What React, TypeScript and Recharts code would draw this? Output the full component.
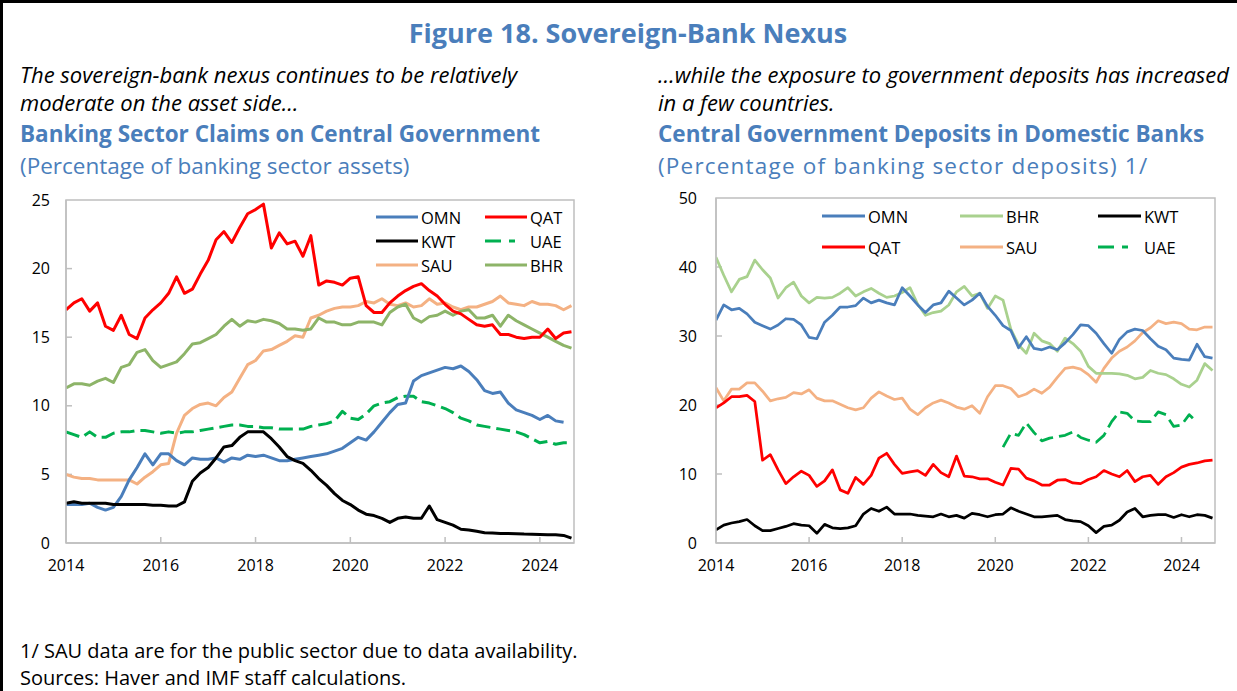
import React from "react";
import { LineChart, Line, XAxis, YAxis, ReferenceArea, ReferenceLine } from "recharts";

// bimonthly grid, Jan 2014 .. Sep 2024
const t = Array.from({ length: 65 }, (_, i) => 2014 + i / 6);
const yearTicks = [2014, 2016, 2018, 2020, 2022, 2024];
const xMax = 2024.72;

// Left panel: claims on central government (% of assets)
const leftTicks = [0, 5, 10, 15, 20, 25];
const omnL = [2.8, 2.8, 2.8, 2.9, 2.6, 2.4, 2.6, 3.4, 4.6, 5.5, 6.5, 5.7, 6.5, 6.5, 6.0, 5.7, 6.2, 6.1, 6.1, 6.2, 5.9, 6.2, 6.1, 6.4, 6.3, 6.4, 6.2, 6.0, 6.0, 6.1, 6.2, 6.3, 6.4, 6.5, 6.7, 6.9, 7.3, 7.7, 7.5, 8.1, 8.8, 9.5, 10.1, 10.2, 11.8, 12.2, 12.4, 12.6, 12.8, 12.7, 12.9, 12.5, 11.9, 11.1, 10.9, 11.0, 10.2, 9.7, 9.5, 9.3, 9.0, 9.3, 8.9, 8.8, null];
const qatL = [17.0, 17.5, 17.8, 16.9, 17.5, 15.8, 15.5, 16.6, 15.2, 14.9, 16.4, 17.0, 17.5, 18.2, 19.4, 18.2, 18.5, 19.6, 20.6, 22.1, 22.7, 21.9, 23.0, 24.0, 24.3, 24.7, 21.5, 22.6, 21.8, 22.0, 20.9, 22.4, 18.8, 19.1, 19.0, 18.8, 19.3, 19.4, 17.3, 16.8, 16.8, 17.5, 18.0, 18.4, 18.7, 18.9, 18.4, 18.0, 17.4, 16.9, 16.7, 16.3, 15.9, 15.8, 15.9, 15.2, 15.2, 15.0, 14.9, 15.0, 15.0, 15.6, 14.9, 15.3, 15.4];
const kwtL = [2.9, 3.0, 2.9, 2.9, 2.9, 2.9, 2.8, 2.8, 2.8, 2.8, 2.8, 2.75, 2.75, 2.7, 2.7, 3.0, 4.5, 5.1, 5.5, 6.2, 7.0, 7.1, 7.7, 8.1, 8.1, 8.1, 7.6, 7.0, 6.3, 6.0, 5.8, 5.3, 4.7, 4.2, 3.6, 3.1, 2.8, 2.4, 2.1, 2.0, 1.8, 1.5, 1.8, 1.9, 1.8, 1.8, 2.7, 1.7, 1.5, 1.3, 1.0, 0.95, 0.85, 0.75, 0.72, 0.7, 0.7, 0.68, 0.65, 0.64, 0.62, 0.6, 0.6, 0.55, 0.35];
const uaeL = [8.1, 7.9, 7.7, 8.1, 7.7, 7.7, 8.0, 8.1, 8.1, 8.2, 8.2, 8.1, 8.0, 8.1, 8.0, 8.1, 8.1, 8.2, 8.3, 8.4, 8.5, 8.6, 8.6, 8.5, 8.5, 8.4, 8.4, 8.3, 8.3, 8.3, 8.3, 8.5, 8.6, 8.7, 8.9, 9.6, 9.1, 9.0, 9.4, 10.0, 10.2, 10.3, 10.6, 10.7, 10.7, 10.3, 10.2, 10.0, 9.8, 9.5, 9.1, 8.9, 8.6, 8.5, 8.4, 8.3, 8.2, 8.1, 7.9, 7.6, 7.3, 7.4, 7.2, 7.3, 7.3];
const sauL = [5.0, 4.8, 4.7, 4.7, 4.6, 4.6, 4.6, 4.6, 4.6, 4.3, 4.8, 5.2, 5.7, 5.8, 8.0, 9.3, 9.8, 10.1, 10.2, 10.0, 10.6, 11.0, 12.0, 13.0, 13.3, 14.0, 14.1, 14.4, 14.7, 15.1, 15.0, 16.4, 16.6, 16.9, 17.1, 17.2, 17.2, 17.3, 17.6, 17.5, 17.8, 17.4, 17.3, 17.5, 17.2, 17.3, 17.8, 17.4, 17.5, 17.2, 17.0, 17.2, 17.2, 17.4, 17.6, 18.0, 17.5, 17.4, 17.3, 17.6, 17.4, 17.4, 17.3, 17.0, 17.3];
const bhrL = [11.3, 11.6, 11.6, 11.5, 11.8, 12.0, 11.7, 12.8, 13.0, 13.9, 14.1, 13.3, 12.8, 13.0, 13.2, 13.8, 14.5, 14.6, 14.9, 15.2, 15.8, 16.3, 15.8, 16.2, 16.1, 16.3, 16.2, 16.0, 15.6, 15.6, 15.5, 15.6, 16.4, 16.1, 16.1, 15.9, 15.9, 16.1, 16.1, 16.1, 15.9, 16.8, 17.2, 17.4, 16.4, 16.1, 16.5, 16.6, 16.9, 16.6, 16.9, 17.0, 16.4, 16.4, 16.6, 15.8, 16.6, 16.2, 15.9, 15.6, 15.3, 15.0, 14.7, 14.4, 14.2];

// Right panel: government deposits (% of deposits)
const rightTicks = [0, 10, 20, 30, 40, 50];
const omnR = [32.3, 34.5, 33.8, 34.0, 33.2, 32.0, 31.5, 31.0, 31.6, 32.5, 32.4, 31.6, 29.8, 29.6, 32.0, 33.0, 34.2, 34.2, 34.4, 35.5, 34.8, 35.2, 34.8, 34.5, 37.0, 35.8, 34.5, 33.4, 34.5, 34.8, 36.5, 35.5, 34.5, 35.2, 36.2, 34.3, 33.0, 31.5, 30.8, 28.3, 29.9, 28.2, 28.0, 28.4, 28.0, 29.0, 30.2, 31.6, 31.5, 30.4, 28.9, 27.5, 29.5, 30.6, 31.0, 30.8, 29.6, 28.5, 28.0, 26.8, 26.6, 26.5, 28.8, 27.0, 26.8];
const bhrR = [41.4, 38.8, 36.4, 38.2, 38.6, 41.0, 39.6, 38.4, 35.5, 37.0, 37.8, 35.8, 34.8, 35.6, 35.5, 35.6, 36.2, 37.0, 35.8, 36.4, 36.9, 36.2, 35.6, 35.8, 36.3, 37.0, 34.6, 33.0, 33.4, 33.6, 34.5, 36.4, 37.2, 35.8, 36.2, 34.0, 35.8, 35.2, 31.0, 28.7, 27.5, 30.4, 29.3, 28.9, 27.8, 29.7, 28.9, 27.8, 25.6, 24.6, 24.6, 24.6, 24.5, 24.3, 23.8, 24.0, 25.0, 24.6, 24.4, 23.8, 23.0, 22.6, 23.6, 26.0, 25.0];
const kwtR = [1.9, 2.6, 2.9, 3.1, 3.4, 2.5, 1.8, 1.8, 2.1, 2.4, 2.8, 2.6, 2.5, 1.4, 2.7, 2.2, 2.1, 2.2, 2.5, 4.2, 5.0, 4.6, 5.2, 4.2, 4.2, 4.2, 4.0, 3.9, 3.8, 4.2, 3.8, 4.0, 3.6, 4.3, 4.1, 3.8, 4.1, 4.2, 5.1, 4.6, 4.2, 3.8, 3.8, 3.9, 4.0, 3.4, 3.2, 3.1, 2.5, 1.5, 2.4, 2.6, 3.3, 4.5, 5.0, 3.8, 4.0, 4.1, 4.1, 3.7, 4.1, 3.8, 4.1, 4.0, 3.6];
const qatR = [19.6, 20.3, 21.2, 21.2, 21.4, 20.5, 12.0, 12.8, 10.6, 8.6, 9.6, 10.4, 9.8, 8.2, 9.0, 10.6, 7.7, 7.2, 9.5, 8.5, 9.8, 12.3, 13.0, 11.4, 10.1, 10.3, 10.5, 9.8, 11.4, 10.2, 9.6, 12.6, 9.7, 9.6, 9.3, 9.3, 8.8, 8.4, 10.8, 10.7, 9.4, 9.0, 8.4, 8.4, 9.1, 9.2, 8.7, 8.6, 9.2, 9.6, 10.5, 10.0, 9.6, 10.5, 8.9, 9.6, 9.8, 8.5, 9.6, 10.2, 11.0, 11.4, 11.6, 11.9, 12.0];
const sauR = [22.5, 20.6, 22.3, 22.3, 23.2, 23.2, 22.0, 20.6, 20.9, 21.1, 21.8, 21.6, 22.2, 21.0, 20.6, 20.6, 20.1, 19.6, 19.3, 19.6, 21.0, 21.9, 21.3, 20.8, 21.0, 19.4, 18.6, 19.6, 20.3, 20.7, 20.3, 19.7, 19.4, 19.9, 18.8, 21.2, 22.8, 22.8, 22.4, 21.2, 21.6, 22.3, 21.7, 22.6, 24.0, 25.3, 25.5, 25.2, 24.4, 23.3, 25.3, 26.8, 27.8, 28.4, 29.3, 30.5, 31.2, 32.2, 31.8, 32.0, 31.8, 31.0, 30.9, 31.3, 31.3];
const uaeR = [...Array(37).fill(null), 13.9, 15.9, 15.6, 17.4, 16.0, 14.8, 15.2, 15.4, 15.6, 16.1, 15.3, 14.9, 14.6, 15.6, 17.6, 19.0, 18.8, 17.7, 17.6, 17.6, 19.0, 18.6, 16.9, 17.1, 18.6, 17.5, null, null];

const leftRows = t.map((x, i) => ({ t: x, OMN: omnL[i], QAT: qatL[i], KWT: kwtL[i], UAE: uaeL[i], SAU: sauL[i], BHR: bhrL[i] }));
const rightRows = t.map((x, i) => ({ t: x, OMN: omnR[i], BHR: bhrR[i], KWT: kwtR[i], QAT: qatR[i], SAU: sauR[i], UAE: uaeR[i] }));

const BLUE = "#4a7ebb";
const GRID = "#bfbfbf";
const FONT = "'Open Sans', 'Noto Sans', sans-serif";
const DASH = "14 6";

const leftSeries = [
  { key: "OMN", color: BLUE },
  { key: "QAT", color: "#ff0000" },
  { key: "KWT", color: "#000000" },
  { key: "UAE", color: "#00b050", dash: DASH },
  { key: "SAU", color: "#f4b183" },
  { key: "BHR", color: "#8db468" },
];
const rightSeries = [
  { key: "OMN", color: BLUE },
  { key: "BHR", color: "#a9d18e" },
  { key: "KWT", color: "#000000" },
  { key: "QAT", color: "#ff0000" },
  { key: "SAU", color: "#f4b183" },
  { key: "UAE", color: "#00b050", dash: DASH },
];
// draw order (back to front)
const leftOrder = ["SAU", "BHR", "UAE", "OMN", "KWT", "QAT"];
const rightOrder = ["SAU", "BHR", "OMN", "UAE", "QAT", "KWT"];

function Panel({ rows, series, order, yTicks, yMax, width, height, margin, strokeWidth, pxYear, pxUnit, yTickMargin }) {
  const tickFont = { fontSize: 16, fill: "#000", fontFamily: FONT };
  const dx = 6 / pxYear;
  const dy = 6 / pxUnit;
  return (
    <LineChart width={width} height={height} data={rows} margin={margin}>
      <XAxis
        dataKey="t" type="number" domain={[2014, xMax]} ticks={yearTicks} allowDataOverflow
        tick={tickFont} tickLine={false} tickSize={0} tickMargin={17} height={30}
        axisLine={{ stroke: GRID, strokeWidth: 1.5 }} tickFormatter={(v) => String(Math.round(v))}
      />
      <YAxis
        type="number" domain={[0, yMax]} ticks={yTicks} interval={0}
        tick={tickFont} tickLine={false} tickSize={0} tickMargin={yTickMargin} width={40}
        axisLine={{ stroke: GRID, strokeWidth: 1.5 }}
      />
      <ReferenceArea x1={2014} x2={xMax} y1={0} y2={yMax} fill="none" stroke={GRID} strokeWidth={1.5} />
      {yTicks.filter((v) => v > 0 && v < yMax).map((v) => (
        <ReferenceLine key={"y" + v} segment={[{ x: 2014, y: v }, { x: 2014 + dx, y: v }]} stroke={GRID} strokeWidth={1.5} />
      ))}
      {yearTicks.filter((v) => v > 2014).map((v) => (
        <ReferenceLine key={"x" + v} segment={[{ x: v, y: 0 }, { x: v, y: dy }]} stroke={GRID} strokeWidth={1.5} />
      ))}
      {order.map((k) => {
        const s = series.find((d) => d.key === k);
        return (
          <Line
            key={k} dataKey={k} type="linear" stroke={s.color} strokeWidth={strokeWidth}
            strokeDasharray={s.dash} dot={false} activeDot={false} connectNulls={false}
            isAnimationActive={false} strokeLinejoin="round"
          />
        );
      })}
    </LineChart>
  );
}

function LegendItem({ s, x, y, lineW }) {
  return (
    <div style={{ position: "absolute", left: x, top: y - 12, height: 24, display: "flex", alignItems: "center" }}>
      <svg width={lineW} height={6} style={{ marginRight: 3 }}>
        <line x1={0} y1={3} x2={lineW} y2={3} stroke={s.color} strokeWidth={3} strokeDasharray={s.dash ? "16 8 6 20" : undefined} />
      </svg>
      <span style={{ fontSize: 16.5, fontFamily: FONT, color: "#000" }}>{s.key}</span>
    </div>
  );
}

function Text({ x, y, size, children, style, lh = 30 }) {
  return (
    <div style={{ position: "absolute", left: x, top: y - lh / 2, height: lh, lineHeight: lh + "px", fontSize: size, fontFamily: FONT, whiteSpace: "nowrap", ...style }}>
      {children}
    </div>
  );
}

export default function App() {
  const italic = { fontStyle: "italic", color: "#000" };
  const head = { fontWeight: 700, color: BLUE };
  const sub = { color: BLUE };
  const byKey = (arr, k) => arr.find((d) => d.key === k);
  return (
    <div style={{ position: "absolute", left: 0, top: 0, width: 1237, height: 691, background: "#fff", overflow: "hidden", borderTop: "3px solid #000", borderLeft: "3px solid #000", boxSizing: "border-box" }}>
      <Text x={0} y={30} size={27} lh={34} style={{ width: 1250, textAlign: "center", fontWeight: 700, color: BLUE }}>Figure 18. Sovereign-Bank Nexus</Text>

      <Text x={17} y={71} size={22} lh={28} style={italic}>The sovereign-bank nexus continues to be relatively</Text>
      <Text x={17} y={99} size={22} lh={28} style={italic}>moderate on the asset side…</Text>
      <Text x={17} y={131} size={22.5} style={head}>Banking Sector Claims on Central Government</Text>
      <Text x={17} y={163} size={22.5} style={sub}>(Percentage of banking sector assets)</Text>

      <Text x={655} y={71} size={22} lh={28} style={italic}>…while the exposure to government deposits has increased</Text>
      <Text x={655} y={99} size={22} lh={28} style={italic}>in a few countries.</Text>
      <Text x={655} y={131} size={22.5} style={head}>Central Government Deposits in Domestic Banks</Text>
      <Text x={655} y={163} size={22.5} style={{ ...sub, letterSpacing: 1.2 }}>(Percentage of banking sector deposits) 1/</Text>

      <div style={{ position: "absolute", left: -3, top: 187 }}>
        <Panel
          rows={leftRows} series={leftSeries} order={leftOrder} yTicks={leftTicks} yMax={25}
          width={600} height={400} margin={{ top: 10, right: 26, bottom: 17, left: 26 }}
          strokeWidth={3} pxYear={47.2} pxUnit={13.72} yTickMargin={16}
        />
      </div>
      <div style={{ position: "absolute", left: 637, top: 185 }}>
        <Panel
          rows={rightRows} series={rightSeries} order={rightOrder} yTicks={rightTicks} yMax={50}
          width={600} height={402} margin={{ top: 10, right: 25, bottom: 17, left: 36 }}
          strokeWidth={2.75} pxYear={46.6} pxUnit={6.9} yTickMargin={19}
        />
      </div>

      {[["OMN", 0, 0], ["QAT", 1, 0], ["KWT", 0, 1], ["UAE", 1, 1], ["SAU", 0, 2], ["BHR", 1, 2]].map(([k, c, r]) => (
        <LegendItem key={"l" + k} s={byKey(leftSeries, k)} x={373 + c * 109} y={214 + r * 24} lineW={42} />
      ))}
      {[["OMN", 0, 0], ["BHR", 1, 0], ["KWT", 2, 0], ["QAT", 0, 1], ["SAU", 1, 1], ["UAE", 2, 1]].map(([k, c, r]) => (
        <LegendItem key={"r" + k} s={byKey(rightSeries, k)} x={819 + c * 138} y={213 + r * 31} lineW={43} />
      ))}

      <Text x={17} y={648} size={20} lh={22} style={{ color: "#000" }}>1/ SAU data are for the public sector due to data availability.</Text>
      <Text x={17} y={675} size={20} lh={22} style={{ color: "#000" }}>Sources: Haver and IMF staff calculations.</Text>
    </div>
  );
}
